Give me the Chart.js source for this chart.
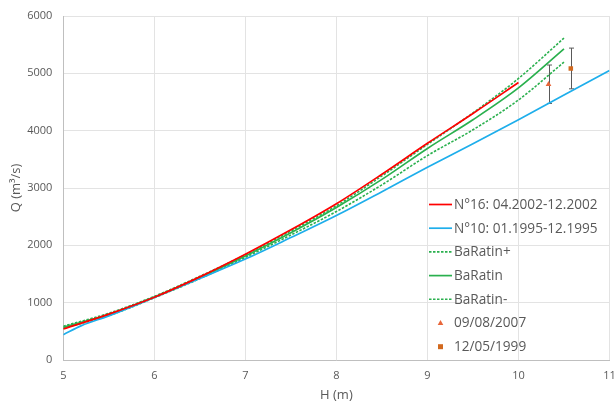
<!DOCTYPE html>
<html>
<head>
<meta charset="utf-8">
<script src="https://cdn.jsdelivr.net/npm/chart.js"></script>
<style>
    body { margin: 0; background: #fff; }
    #wrap { width: 614px; height: 406px; }
</style>
</head>
<body>
<div id="wrap"><canvas id="ratingChart" width="614" height="406"></canvas></div>
<script>
// stage H (m) and discharge Q (m3/s)
const hN16 = [5, 5.5, 6, 6.5, 7, 7.5, 8, 8.5, 9, 9.5, 10];
const qN16 = [540, 800, 1095, 1450, 1845, 2270, 2725, 3240, 3780, 4300, 4840];

const hN10 = [5, 5.2, 5.5, 6, 6.5, 7, 7.5, 8, 8.5, 9, 9.5, 10, 10.5, 11];
const qN10 = [440, 600, 770, 1090, 1420, 1760, 2135, 2520, 2935, 3360, 3770, 4190, 4620, 5050];

const hBaRatin = [5, 5.5, 6, 6.5, 7, 7.5, 8, 8.5, 9, 9.5, 10, 10.5];
const qBaRatinPlus = [590, 815, 1110, 1460, 1835, 2250, 2690, 3210, 3760, 4310, 4910, 5615];
const qBaRatin = [570, 795, 1100, 1440, 1815, 2220, 2660, 3150, 3690, 4190, 4745, 5425];
const qBaRatinMinus = [555, 775, 1085, 1420, 1790, 2180, 2590, 3055, 3565, 4015, 4535, 5195];

// gaugings with their uncertainty
const gaugingDates = ['09/08/2007', '12/05/1999'];
const gaugingH = [10.33, 10.575];
const gaugingQ = [4810, 5085];
const gaugingErr = [335, 355];

const xTicks = [5, 6, 7, 8, 9, 10, 11];
const yTicks = [0, 1000, 2000, 3000, 4000, 5000, 6000];

const FONT = "'Open Sans', 'Liberation Sans', sans-serif";
const GREEN = '#2AB04E';

function toPoints(xs, ys) {
    return xs.map((x, i) => ({ x: x, y: ys[i] }));
}

function lineSet(label, xs, ys, color, dash) {
    return {
        label: label,
        data: toPoints(xs, ys),
        showLine: true,
        borderColor: color,
        backgroundColor: color,
        borderWidth: dash ? 1.6 : 1.7,
        borderDash: dash || [],
        pointRadius: 0,
        pointHoverRadius: 0,
        cubicInterpolationMode: 'monotone',
        fill: false
    };
}

const datasets = [
    lineSet('N°16: 04.2002-12.2002', hN16, qN16, '#FF0000'),
    lineSet('N°10: 01.1995-12.1995', hN10, qN10, '#1EAEEB'),
    lineSet('BaRatin+', hBaRatin, qBaRatinPlus, GREEN, [2.5, 1.5]),
    lineSet('BaRatin', hBaRatin, qBaRatin, GREEN),
    lineSet('BaRatin-', hBaRatin, qBaRatinMinus, GREEN, [2.5, 1.5]),
    {
        label: gaugingDates[0],
        data: [{ x: gaugingH[0], y: gaugingQ[0] }],
        showLine: false,
        pointStyle: 'triangle',
        pointRadius: 3.3,
        borderWidth: 0,
        backgroundColor: '#E8663A',
        borderColor: '#E8663A',
        errors: [gaugingErr[0]]
    },
    {
        label: gaugingDates[1],
        data: [{ x: gaugingH[1], y: gaugingQ[1] }],
        showLine: false,
        pointStyle: 'rect',
        pointRadius: 3.2,
        borderWidth: 0,
        backgroundColor: '#D2691E',
        borderColor: '#D2691E',
        errors: [gaugingErr[1]]
    }
];

// vertical error bars for the gaugings
const errorBars = {
    id: 'errorBars',
    beforeDatasetsDraw(chart) {
        const ctx = chart.ctx;
        const xs = chart.scales.x;
        const ys = chart.scales.y;
        ctx.save();
        ctx.strokeStyle = '#595959';
        ctx.lineWidth = 1;
        chart.data.datasets.forEach(ds => {
            if (!ds.errors) return;
            ds.data.forEach((p, i) => {
                const px = Math.round(xs.getPixelForValue(p.x)) + 0.5;
                const top = ys.getPixelForValue(p.y + ds.errors[i]);
                const bot = ys.getPixelForValue(p.y - ds.errors[i]);
                ctx.beginPath();
                ctx.moveTo(px, top);
                ctx.lineTo(px, bot);
                ctx.moveTo(px - 2.5, top);
                ctx.lineTo(px + 2.5, top);
                ctx.moveTo(px - 2.5, bot);
                ctx.lineTo(px + 2.5, bot);
                ctx.stroke();
            });
        });
        ctx.restore();
    }
};

// legend sitting inside the plot area, no box
const insideLegend = {
    id: 'insideLegend',
    afterDraw(chart) {
        const ctx = chart.ctx;
        const x0 = 429, y0 = 204.5, lineLen = 23, rowH = 23.7;
        ctx.save();
        ctx.font = '13.6px ' + FONT;
        ctx.textBaseline = 'middle';
        ctx.textAlign = 'left';
        chart.data.datasets.forEach((ds, i) => {
            const y = y0 + i * rowH;
            if (ds.showLine) {
                ctx.strokeStyle = ds.borderColor;
                ctx.lineWidth = ds.borderWidth;
                ctx.setLineDash(ds.borderDash);
                ctx.beginPath();
                ctx.moveTo(x0, y);
                ctx.lineTo(x0 + lineLen, y);
                ctx.stroke();
                ctx.setLineDash([]);
            } else {
                const cx = x0 + 11.5;
                ctx.fillStyle = ds.backgroundColor;
                ctx.beginPath();
                if (ds.pointStyle === 'triangle') {
                    ctx.moveTo(cx, y - 3);
                    ctx.lineTo(cx + 2.8, y + 2);
                    ctx.lineTo(cx - 2.8, y + 2);
                    ctx.closePath();
                } else {
                    ctx.rect(cx - 2.5, y - 2.5, 5, 5);
                }
                ctx.fill();
            }
            ctx.fillStyle = '#595959';
            ctx.fillText(ds.label, x0 + lineLen + 2, y + 0.5);
        });
        ctx.restore();
    }
};

new Chart(document.getElementById('ratingChart'), {
    type: 'scatter',
    data: { datasets: datasets },
    plugins: [errorBars, insideLegend],
    options: {
        responsive: false,
        animation: false,
        events: [],
        layout: { padding: { top: 16, right: 4.5, bottom: 0, left: 0 } },
        plugins: {
            legend: { display: false },
            tooltip: { enabled: false }
        },
        scales: {
            x: {
                type: 'linear',
                min: 5,
                max: 11,
                afterBuildTicks: s => { s.ticks = xTicks.map(v => ({ value: v })); },
                afterFit: s => { s.height = 46; s.paddingLeft = 0; s.paddingRight = 0; },
                grid: { color: '#E3E3E3', drawTicks: false },
                border: { color: '#BFBFBF' },
                ticks: { color: '#595959', font: { family: FONT, size: 11 }, padding: 9, maxRotation: 0,
                    callback: v => String(v) },
                title: { display: true, text: 'H (m)', color: '#595959', font: { family: FONT, size: 13 }, padding: { top: 0, bottom: 3 } }
            },
            y: {
                min: 0,
                max: 6000,
                afterBuildTicks: s => { s.ticks = yTicks.map(v => ({ value: v })); },
                afterFit: s => { s.width = 63.3; s.paddingTop = 0; s.paddingBottom = 0; },
                grid: { color: '#E3E3E3', drawTicks: false },
                border: { color: '#BFBFBF' },
                ticks: { color: '#595959', font: { family: FONT, size: 11 }, padding: 11,
                    callback: v => String(v) },
                title: { display: true, text: 'Q (m³/s)', color: '#595959', font: { family: FONT, size: 13 }, padding: { top: 8, bottom: 0 } }
            }
        }
    }
});
</script>
</body>
</html>
